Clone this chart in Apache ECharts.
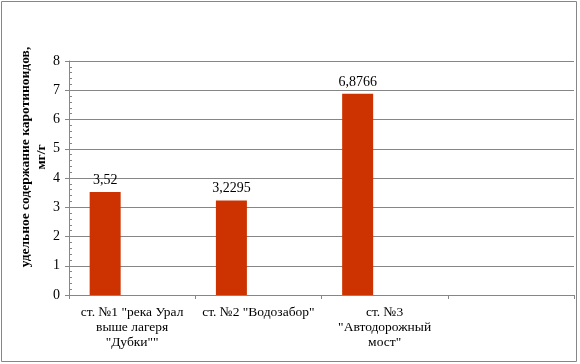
<!DOCTYPE html>
<html>
<head>
<meta charset="utf-8">
<script src="https://cdn.jsdelivr.net/npm/echarts@6/dist/echarts.min.js"></script>
<style>
html, body { margin: 0; padding: 0; background: #fff; }
#main { width: 580px; height: 364px; }
</style>
</head>
<body>
<div id="main"></div>
<script>
// данные
var categories = ['ст. №1 "река Урал\nвыше лагеря\n"Дубки""', 'ст. №2 "Водозабор"', 'ст. №3\n"Автодорожный\nмост"', ''];
var values = [3.52, 3.2295, 6.8766, null];
var valueLabels = ['3,52', '3,2295', '6,8766', ''];
var yTicks = [0, 1, 2, 3, 4, 5, 6, 7, 8];

var chart = echarts.init(document.getElementById('main'));
var serif = 'Liberation Serif';

var option = {
    animation: false,
    textStyle: { fontFamily: serif, color: '#000' },
    graphic: [{
        type: 'rect',
        shape: { x: 1.5, y: 1.5, width: 575, height: 360 },
        style: { fill: 'none', stroke: '#868686', lineWidth: 1 }
    }],
    grid: { left: 69, right: 6, top: 61, bottom: 69 },
    xAxis: {
        type: 'category',
        data: categories,
        axisLine: { lineStyle: { color: '#868686' } },
        axisTick: { show: true, length: 4, lineStyle: { color: '#868686' } },
        axisLabel: {
            interval: 0, fontFamily: serif, fontSize: 13.5, color: '#000',
            lineHeight: 15, margin: 10
        }
    },
    yAxis: {
        type: 'value',
        min: yTicks[0], max: yTicks[yTicks.length - 1], interval: 1,
        name: 'удельное содержание каротиноидов,\nмг/г',
        nameLocation: 'middle', nameRotate: 90, nameGap: 19,
        nameMoveOverlap: false,
        nameTextStyle: {
            fontFamily: serif, fontSize: 13.5, fontWeight: 'bold', color: '#000',
            lineHeight: 16, padding: [0, 0, 0, 42]
        },
        axisLine: { show: true, lineStyle: { color: '#868686' } },
        axisTick: { show: true, length: 4, lineStyle: { color: '#868686' } },
        minorTick: { show: true, splitNumber: 5, length: -3, lineStyle: { color: '#868686' } },
        splitLine: { lineStyle: { color: '#868686' } },
        axisLabel: { fontFamily: serif, fontSize: 14, color: '#000', margin: 9 }
    },
    series: [{
        type: 'bar',
        data: values,
        barWidth: 31,
        barGap: '74%',
        itemStyle: { color: '#CC3300' },
        label: {
            show: true, position: 'top', distance: 5,
            fontFamily: serif, fontSize: 14, color: '#000',
            formatter: function (p) { return valueLabels[p.dataIndex]; }
        }
    }, {
        type: 'bar',
        data: [null, null, null, null],
        barWidth: 31
    }]
};

chart.setOption(option);
</script>
</body>
</html>
